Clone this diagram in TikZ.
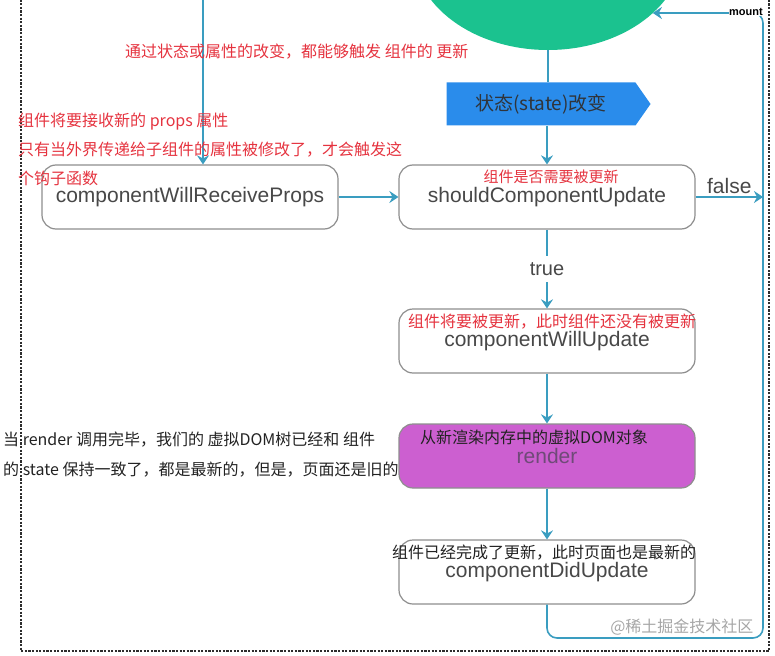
\documentclass[tikz,border=0pt]{standalone}
\usepackage{fontspec}
\setmainfont{Liberation Sans}
\newfontfamily\cjk{Noto Sans CJK SC}
\usepackage{tikz}
\usetikzlibrary{arrows.meta,shapes.geometric,shapes.symbols}
\definecolor{lcteal}{HTML}{3A9DC0}
\definecolor{lcgrey}{HTML}{8E8E8E}
\definecolor{lcink}{HTML}{484848}
\definecolor{lcgreen}{HTML}{1BC28F}
\definecolor{lcblue}{HTML}{2A8CEB}
\definecolor{lcdark}{HTML}{30343A}
\definecolor{lcpink}{HTML}{CC5FD0}
\definecolor{lcrender}{HTML}{6F4A78}
\definecolor{lcred}{HTML}{E5333F}
\definecolor{lcblack}{HTML}{222222}
\definecolor{lcmark}{HTML}{A6A6A6}
\tikzset{
  lcbox/.style={draw=lcgrey,line width=1.2pt,rounded corners=14pt,fill=white,minimum width=296pt,minimum height=64pt,text=lcink,font=\fontsize{21}{21}\selectfont},
  lcflow/.style={-{Stealth[length=9pt,width=12pt,inset=3pt]},draw=lcteal,line width=1.6pt},
  lcline/.style={draw=lcteal,line width=1.6pt},
  lcwarn/.style={text=lcred,font=\cjk\fontsize{16}{29}\selectfont,inner sep=0pt,align=left},
  lcnote/.style={text=lcblack,font=\cjk\fontsize{16}{30}\selectfont,inner sep=0pt,align=left},
  lcframe/.style={draw=gray!35!black,line width=2.4pt,dash pattern=on 2.2pt off 1.4pt}
}
\begin{document}
\begin{tikzpicture}[x=1pt,y=-1pt]
\useasboundingbox (0,0) rectangle (775,655);
\clip (0,0) rectangle (775,655);
\draw[lcframe] (21,-4) |- (769,651) -- (769,-4);
\node[ellipse,fill=lcgreen,minimum width=270pt,minimum height=200pt,inner sep=0pt,outer sep=0pt] (start) at (548,-50) {};
\node[signal,signal to=east,signal pointer angle=110,fill=lcblue,minimum width=204pt,minimum height=43pt,inner sep=0pt,text=lcdark,font=\cjk\fontsize{19}{19}\selectfont] (state) at (541,104) {状态(state)改变};
\node[lcbox] (receive) at (190,197) {componentWillReceiveProps};
\node[lcbox] (should) at (547,197) {shouldComponentUpdate};
\node[lcbox] (willupdate) at (547,341) {componentWillUpdate};
\node[lcbox,fill=lcpink,text=lcrender] (render) at (547,456) {render};
\node[lcbox] (didupdate) at (547,572) {componentDidUpdate};
\coordinate (propsin) at (203,-4);
\coordinate (loopcorner) at (763,638);
% flow
\draw[lcline] (start.south) -- (start.south |- state.north);
\draw[lcflow] (propsin) -- (propsin |- receive.north);
\draw[lcflow] (receive.east) -- (should.west);
\draw[lcflow] (state.south -| should.north) -- (should.north);
\foreach \a/\b in {willupdate/render,render/didupdate}{\draw[lcflow] (\a.south) -- (\b.north);}
\draw[lcflow] (should.south) -- node[fill=white,inner sep=6pt,text=lcink,font=\fontsize{20}{20}\selectfont]{true} (willupdate.north);
\draw[lcflow] (should.east) -- node[above,inner sep=2pt,text=lcink,font=\fontsize{21}{21}\selectfont]{false} (should.east -| loopcorner);
\draw[lcflow,rounded corners=10pt] (didupdate.south) |- (loopcorner) |- (start.-31);
\node[fill=white,inner sep=0.5pt,font=\bfseries\fontsize{11}{11}\selectfont] (mountlbl) at (746,12) {mount};
% notes
\node[lcwarn,anchor=west] at (125,52) {通过状态或属性的改变，都能够触发 组件的 更新};
\node[lcwarn,anchor=west] at (18,149) {组件将要接收新的 props 属性\\只有当外界传递给子组件的属性被修改了，才会触发这\\个钩子函数};
\node[lcwarn,font=\cjk\fontsize{15}{15}\selectfont] at (551,177) {组件是否需要被更新};
\node[lcwarn] at (552,322) {组件将要被更新，此时组件还没有被更新};
\node[lcnote] at (534,437) {从新渲染内存中的虚拟DOM对象};
\node[lcnote] at (544,553) {组件已经完成了更新，此时页面也是最新的};
\node[lcnote,anchor=west] at (3,455) {当 render 调用完毕，我们的 虚拟DOM树已经和 组件\\的 state 保持一致了，都是最新的，但是，页面还是旧的};
\node[text=lcmark,font=\cjk\fontsize{16}{16}\selectfont,anchor=east] at (757,627) {@稀土掘金技术社区};
\end{tikzpicture}
\end{document}
